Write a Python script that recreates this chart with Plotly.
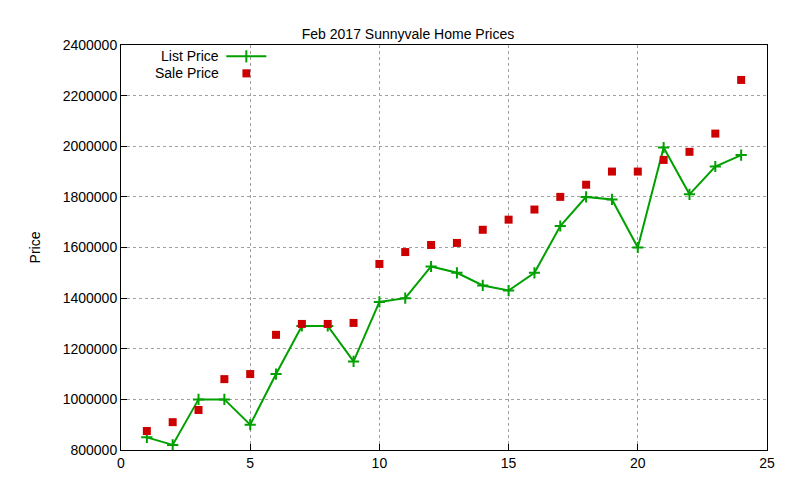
import plotly.graph_objects as go

months = list(range(1, 25))
list_price = [850000, 820000, 1000000, 1000000, 900000, 1100000, 1290000, 1290000,
              1150000, 1385000, 1400000, 1525000, 1500000, 1450000, 1430000, 1500000,
              1685000, 1800000, 1790000, 1600000, 1995000, 1810000, 1920000, 1965000]
sale_price = [875000, 910000, 958000, 1080000, 1100000, 1255000, 1298000, 1298000,
              1302000, 1535000, 1582000, 1610000, 1618000, 1670000, 1710000, 1750000,
              1800000, 1848000, 1900000, 1900000, 1946000, 1978000, 2050000, 2262000]

green = "#00a000"
red = "#cc0000"
font = dict(family="Liberation Sans, Arial", size=14, color="black")

fig = go.Figure()
fig.add_trace(go.Scatter(x=months, y=list_price, mode="lines+markers", name="List Price",
                         line=dict(color=green, width=2),
                         marker=dict(symbol="cross-thin", size=8, line=dict(color=green, width=2))))
fig.add_trace(go.Scatter(x=months, y=sale_price, mode="markers", name="Sale Price",
                         marker=dict(symbol="square", size=8, color=red)))

axis = dict(showline=True, mirror=True, linecolor="black", linewidth=1,
            showgrid=True, gridcolor="#a0a0a0", griddash="dot", gridwidth=1,
            ticks="inside", ticklen=6, tickcolor="black", zeroline=False, tickfont=font)
fig.update_xaxes(range=[0, 25], dtick=5, **axis)
fig.update_yaxes(range=[800000, 2400000], dtick=200000, tickformat="d",
                 title=dict(text="Price", font=font, standoff=18), **axis)

# gnuplot-style legend: text left, sample right
fig.add_annotation(x=0.155, y=0.972, xref="paper", yref="paper", text="List Price",
                   showarrow=False, xanchor="right", yanchor="middle", font=font)
fig.add_annotation(x=0.155, y=0.93, xref="paper", yref="paper", text="Sale Price",
                   showarrow=False, xanchor="right", yanchor="middle", font=font)
fig.add_shape(type="line", xref="paper", yref="paper", x0=0.163, x1=0.225, y0=0.972, y1=0.972,
              line=dict(color=green, width=2))
fig.add_shape(type="line", xref="paper", yref="paper", x0=0.194, x1=0.194, y0=0.957, y1=0.987,
              line=dict(color=green, width=2))
fig.add_shape(type="rect", xref="paper", yref="paper", x0=0.188, x1=0.200, y0=0.92, y1=0.94,
              fillcolor=red, line=dict(width=0))

fig.update_layout(width=800, height=480, showlegend=False,
                  plot_bgcolor="white", paper_bgcolor="white",
                  margin=dict(l=113, r=41, t=37, b=38),
                  title=dict(text="Feb 2017 Sunnyvale Home Prices", x=0.5, xanchor="center",
                             y=0.955, font=font))
fig.write_html("out.html")
